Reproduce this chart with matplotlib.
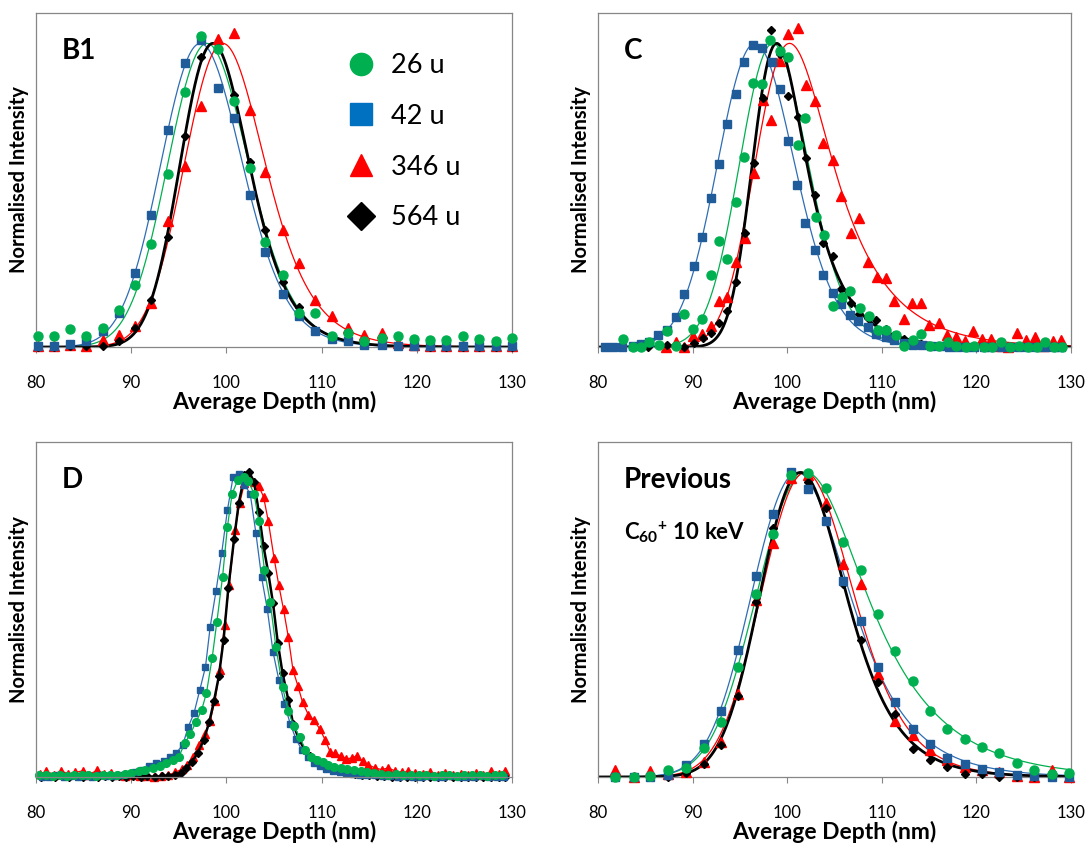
import numpy as np
import matplotlib
matplotlib.use('Agg')
import matplotlib.pyplot as plt
from matplotlib.lines import Line2D

plt.rcParams['font.family'] = ['Lato', 'DejaVu Sans']
plt.rcParams['mathtext.fontset'] = 'custom'
plt.rcParams['mathtext.rm'] = 'Lato'
plt.rcParams['mathtext.bf'] = 'Lato:bold'

# ---- data (depth in nm, normalised intensity) ----
labels = ['26 u', '42 u', '346 u', '564 u']

# panel B1 (all series share one depth grid)
b1_x = [80.2, 81.9, 83.6, 85.3, 87.0, 88.7, 90.4, 92.1, 93.9, 95.6, 97.3, 99.1, 100.8, 102.5, 104.1,
        105.9, 107.6, 109.3, 111.1, 112.8, 114.5, 116.3, 118.0, 119.7, 121.4, 123.1, 124.8, 126.5, 128.3, 130.0]
b1_26 = [0.035, 0.035, 0.059, 0.035, 0.063, 0.121, 0.205, 0.340, 0.571, 0.839, 1.023, 0.981, 0.809, 0.590, 0.345,
         0.237, 0.112, 0.112, 0.037, 0.046, 0.019, 0.030, 0.035, 0.026, 0.022, 0.022, 0.035, 0.026, 0.019, 0.030]
b1_42 = [0.002, 0.002, 0.011, 0.019, 0.052, 0.112, 0.244, 0.436, 0.714, 0.937, 1.012, 0.853, 0.754, 0.502, 0.312,
         0.176, 0.103, 0.052, 0.026, 0.019, 0.008, 0.008, 0.002, 0.002, 0.002, 0.002, 0.002, 0.002, 0.002, 0.002]
b1_346 = [0.004, 0.002, 0.008, 0.002, 0.024, 0.041, 0.070, 0.145, 0.414, 0.595, 0.795, 1.014, 1.034, 0.782, 0.578,
          0.386, 0.277, 0.156, 0.101, 0.063, 0.041, 0.046, 0.013, 0.008, 0.004, 0.002, 0.002, 0.002, 0.002, 0.002]
b1_564 = [0.0, 0.0, 0.002, 0.002, 0.002, 0.019, 0.063, 0.156, 0.364, 0.694, 0.955, 0.985, 0.831, 0.609, 0.386,
          0.213, 0.132, 0.055, 0.035, 0.019, 0.013, 0.008, 0.002, 0.002, 0.0, 0.0, 0.0, 0.0, 0.0, 0.0]

# panel C
c_x_26 = [82.6, 83.7, 84.5, 85.4, 86.4, 87.3, 88.2, 89.1, 90.0, 91.0, 91.9, 92.8, 93.6, 94.6, 95.4, 96.4, 97.3,
          98.2, 99.2, 100.1, 101.1, 101.9, 103.0, 103.9, 104.8, 105.8, 106.6, 107.7, 108.6, 109.6, 110.5, 111.5,
          112.3, 113.3, 114.2, 115.1, 116.1, 117.0, 117.9, 118.9, 119.8, 120.8, 121.7, 122.6, 123.6, 124.5, 125.5,
          126.4, 127.3, 128.2, 129.1]
c_y_26 = [0.025, 0.0, 0.0, 0.016, 0.008, 0.052, 0.005, 0.110, 0.060, 0.093, 0.236, 0.348, 0.291, 0.476, 0.626,
          0.871, 0.865, 1.011, 0.975, 0.956, 0.664, 0.754, 0.428, 0.370, 0.134, 0.165, 0.186, 0.129, 0.101, 0.057,
          0.057, 0.038, 0.005, 0.024, 0.043, 0.002, 0.005, 0.016, 0.002, 0.0, 0.003, 0.0, 0.0, 0.016, 0.0, 0.002,
          0.0, 0.0, 0.016, 0.0, 0.0]
c_x_42 = [80.7, 81.6, 82.5, 83.7, 84.6, 85.4, 86.3, 87.3, 88.2, 89.1, 90.1, 91.0, 91.9, 92.8, 93.6, 94.6, 95.4,
          96.4, 97.3, 98.4, 99.2, 100.1, 101.0, 101.9, 102.9, 103.8, 104.8, 105.7, 106.6, 107.5, 108.5, 109.4,
          110.4, 111.3, 112.3, 113.3, 114.3, 115.2, 116.2, 117.1, 118.0, 118.9, 119.8, 120.8, 121.6, 122.6, 123.6,
          124.5, 125.5, 126.4, 127.3, 128.2, 129.0]
c_y_42 = [0.0, 0.0, 0.0, 0.005, 0.011, 0.016, 0.038, 0.055, 0.099, 0.173, 0.267, 0.363, 0.491, 0.604, 0.736,
          0.833, 0.940, 0.995, 0.984, 0.940, 0.849, 0.678, 0.535, 0.410, 0.321, 0.236, 0.178, 0.142, 0.107, 0.085,
          0.066, 0.043, 0.032, 0.024, 0.013, 0.008, 0.008, 0.002, 0.002, 0.0, 0.0, 0.0, 0.0, 0.0, 0.0, 0.0, 0.0,
          0.0, 0.0, 0.0, 0.0, 0.0, 0.0]
c_x_346 = [87.2, 88.2, 89.1, 90.0, 91.0, 91.9, 92.8, 93.6, 94.6, 95.5, 96.5, 97.4, 98.3, 99.2, 100.1, 101.1,
           102.0, 102.9, 103.8, 104.8, 105.7, 106.7, 107.6, 108.5, 109.5, 110.4, 111.3, 112.3, 113.2, 114.1, 115.0,
           116.0, 116.9, 117.9, 118.8, 119.7, 120.6, 121.5, 122.5, 123.4, 124.3, 125.3, 126.2, 127.2, 128.1, 129.0]
c_y_346 = [0.0, 0.015, 0.0, 0.035, 0.042, 0.070, 0.150, 0.165, 0.281, 0.360, 0.572, 0.814, 0.748, 0.942, 1.032,
           1.050, 0.863, 0.809, 0.672, 0.615, 0.499, 0.376, 0.424, 0.280, 0.230, 0.227, 0.152, 0.093, 0.145, 0.145,
           0.074, 0.079, 0.040, 0.032, 0.020, 0.053, 0.025, 0.026, 0.005, 0.0, 0.046, 0.023, 0.034, 0.005, 0.020,
           0.024]
c_x_564 = [85.3, 87.3, 89.1, 90.2, 91.1, 92.0, 92.8, 93.6, 94.6, 95.5, 96.5, 97.4, 98.3, 99.2, 100.1, 101.1,
           102.0, 102.9, 103.8, 104.8, 105.7, 106.7, 107.6, 108.5, 109.4, 110.4, 111.3, 112.3, 113.2, 114.1, 115.0,
           116.0, 117.0, 118.0]
c_y_564 = [0.0, 0.008, 0.0, 0.013, 0.030, 0.045, 0.078, 0.118, 0.213, 0.376, 0.606, 0.819, 1.044, 0.965, 0.826,
           0.758, 0.621, 0.500, 0.344, 0.299, 0.192, 0.146, 0.110, 0.095, 0.089, 0.060, 0.040, 0.025, 0.015, 0.010,
           0.005, 0.003, 0.0, 0.0]

# panel D (points joined by lines, no fit)
d_x_26 = [80.3, 81.0, 81.8, 82.5, 83.3, 84.0, 84.8, 85.5, 86.3, 87.0, 87.8, 88.5, 89.3, 90.0, 90.8, 91.5, 92.3,
          93.0, 93.7, 94.4, 95.0, 95.6, 96.2, 96.8, 97.4, 97.9, 98.5, 99.0, 99.6, 100.1, 100.6, 101.2, 101.8,
          102.3, 102.9, 103.4, 104.0, 104.6, 105.2, 105.9, 106.5, 107.1, 107.7, 108.3, 108.9, 109.5, 110.1, 110.7,
          111.3, 112.0, 112.7, 113.4, 114.1, 114.8, 115.5, 116.2, 117.0, 117.8, 118.6, 119.4, 120.2, 121.0, 121.8,
          122.6, 123.4, 124.2, 125.0, 125.8, 126.6, 127.4, 128.2, 129.0]
d_y_26 = [0.005, 0.008, 0.004, 0.007, 0.003, 0.008, 0.005, 0.006, 0.004, 0.007, 0.005, 0.006, 0.009, 0.012,
          0.018, 0.024, 0.030, 0.036, 0.045, 0.055, 0.065, 0.110, 0.140, 0.180, 0.220, 0.275, 0.390, 0.510, 0.658,
          0.820, 0.930, 0.975, 0.985, 0.972, 0.930, 0.842, 0.678, 0.574, 0.427, 0.295, 0.215, 0.166, 0.131, 0.090,
          0.066, 0.057, 0.050, 0.038, 0.033, 0.030, 0.025, 0.022, 0.020, 0.016, 0.012, 0.010, 0.008, 0.010, 0.006,
          0.008, 0.005, 0.007, 0.004, 0.008, 0.006, 0.004, 0.007, 0.005, 0.006, 0.004, 0.007, 0.008]
d_x_42 = [80.6, 81.4, 82.1, 82.9, 83.6, 84.4, 85.1, 85.9, 86.6, 87.4, 88.1, 88.9, 89.6, 90.4, 91.1, 91.9, 92.6,
          93.4, 94.1, 94.7, 95.4, 96.0, 96.6, 97.2, 97.8, 98.3, 98.9, 99.5, 100.1, 100.7, 101.3, 101.9, 102.5,
          103.1, 103.7, 104.3, 104.9, 105.5, 106.1, 106.7, 107.3, 107.9, 108.6, 109.2, 109.8, 110.5, 111.2, 111.9,
          112.6, 113.3, 114.0, 114.8, 115.6, 116.4, 117.2, 118.0, 118.8, 119.6, 120.4, 121.2, 122.0, 122.8, 123.6,
          124.4, 125.2, 126.0, 126.8, 127.6, 128.4, 129.2]
d_y_42 = [0.0, 0.0, 0.005, 0.0, 0.003, 0.0, 0.004, 0.0, 0.005, 0.002, 0.004, 0.008, 0.010, 0.015, 0.022, 0.035,
          0.046, 0.053, 0.064, 0.078, 0.104, 0.165, 0.210, 0.285, 0.361, 0.494, 0.609, 0.734, 0.875, 0.985, 0.995,
          0.960, 0.930, 0.800, 0.655, 0.550, 0.410, 0.320, 0.240, 0.175, 0.125, 0.090, 0.065, 0.046, 0.035, 0.025,
          0.020, 0.015, 0.012, 0.010, 0.008, 0.006, 0.005, 0.004, 0.002, 0.0, 0.002, 0.0, 0.0, 0.003, 0.0, 0.0,
          0.002, 0.0, 0.0, 0.0, 0.003, 0.0, 0.0, 0.0]
d_x_346 = [80.4, 81.1, 81.9, 82.6, 83.4, 84.1, 84.9, 85.6, 86.4, 87.1, 87.9, 88.6, 89.4, 90.1, 90.9, 91.6, 92.4,
           93.1, 93.9, 94.6, 95.3, 95.9, 96.5, 97.1, 97.7, 98.3, 98.8, 99.3, 99.8, 100.3, 100.9, 101.4, 101.9,
           102.4, 102.9, 103.4, 103.9, 104.4, 105.0, 105.5, 106.0, 106.5, 107.0, 107.5, 108.0, 108.6, 109.2, 109.8,
           110.4, 110.9, 111.4, 112.0, 112.6, 113.2, 113.7, 114.3, 114.9, 115.6, 116.3, 117.0, 117.7, 118.4, 119.1,
           119.8, 120.6, 121.4, 122.2, 123.0, 123.8, 124.6, 125.4, 126.2, 127.0, 127.8, 128.6, 129.3]
d_y_346 = [0.010, 0.018, 0.008, 0.020, 0.010, 0.015, 0.020, 0.008, 0.022, 0.010, 0.012, 0.006, 0.004, 0.005,
           0.003, 0.002, 0.0, 0.004, 0.006, 0.015, 0.025, 0.040, 0.065, 0.105, 0.140, 0.185, 0.250, 0.350, 0.500,
           0.630, 0.810, 0.900, 0.965, 0.985, 0.970, 0.955, 0.920, 0.840, 0.720, 0.630, 0.550, 0.460, 0.350, 0.300,
           0.245, 0.205, 0.186, 0.158, 0.120, 0.082, 0.078, 0.069, 0.060, 0.062, 0.070, 0.052, 0.040, 0.030, 0.024,
           0.030, 0.020, 0.015, 0.018, 0.012, 0.010, 0.015, 0.008, 0.012, 0.006, 0.010, 0.008, 0.012, 0.006, 0.018,
           0.010, 0.020]
d_x_564 = [80.5, 81.2, 82.0, 82.7, 83.5, 84.2, 84.9, 85.7, 86.5, 87.2, 88.0, 88.7, 89.5, 90.2, 91.0, 91.7, 92.5,
           93.2, 93.9, 94.6, 95.2, 95.8, 96.4, 97.0, 97.6, 98.2, 98.7, 99.2, 99.7, 100.2, 100.8, 101.3, 101.9,
           102.4, 102.9, 103.4, 103.9, 104.4, 104.9, 105.4, 105.9, 106.5, 107.0, 107.6, 108.2, 108.8, 109.4, 110.0,
           110.7, 111.4, 112.1, 112.8, 113.5, 114.2, 115.0, 115.8, 116.6, 117.4, 118.2, 119.0, 119.8, 120.6, 121.4,
           122.2, 123.0, 123.8, 124.6, 125.4, 126.2, 127.0, 127.8, 128.6, 129.3]
d_y_564 = [0.0, 0.002, 0.0, 0.003, 0.0, 0.002, 0.0, 0.002, 0.0, 0.002, 0.0, 0.003, 0.0, 0.002, 0.0, 0.002, 0.0,
           0.002, 0.004, 0.008, 0.014, 0.028, 0.050, 0.080, 0.120, 0.180, 0.250, 0.330, 0.450, 0.620, 0.780, 0.900,
           0.990, 1.000, 0.970, 0.870, 0.757, 0.670, 0.570, 0.440, 0.340, 0.254, 0.175, 0.125, 0.090, 0.068, 0.055,
           0.045, 0.035, 0.027, 0.020, 0.015, 0.011, 0.008, 0.005, 0.003, 0.002, 0.0, 0.0, 0.001, 0.0, 0.0, 0.001,
           0.0, 0.0, 0.001, 0.0, 0.0, 0.001, 0.0, 0.0, 0.0, 0.0]

# panel "Previous" (C60+ 10 keV), one depth grid
p_x = [81.8, 83.8, 85.5, 87.4, 89.3, 91.2, 93.0, 94.8, 96.7, 98.5, 100.4, 102.2, 104.1, 105.9, 107.8, 109.6,
       111.4, 113.3, 115.1, 116.9, 118.8, 120.6, 122.4, 124.3, 126.1, 128.0, 129.8]
p_26 = [0.0, 0.0, 0.002, 0.024, 0.031, 0.096, 0.181, 0.361, 0.600, 0.797, 0.993, 0.998, 0.949, 0.771, 0.681, 0.534,
        0.414, 0.314, 0.216, 0.159, 0.126, 0.098, 0.079, 0.046, 0.024, 0.009, 0.013]
p_42 = [0.0, 0.0, 0.0, 0.005, 0.038, 0.109, 0.216, 0.418, 0.660, 0.862, 1.001, 0.946, 0.840, 0.643, 0.512, 0.361,
        0.246, 0.159, 0.107, 0.063, 0.044, 0.027, 0.016, 0.008, 0.002, 0.0, 0.0]
p_346 = [0.024, 0.0, 0.020, 0.009, 0.016, 0.049, 0.115, 0.271, 0.580, 0.768, 0.982, 0.990, 0.900, 0.700, 0.632,
         0.339, 0.184, 0.137, 0.090, 0.055, 0.033, 0.022, 0.016, 0.002, 0.0, 0.022, 0.0]
p_564 = [0.0, 0.0, 0.0, 0.0, 0.013, 0.044, 0.104, 0.265, 0.574, 0.818, 0.990, 0.970, 0.884, 0.632, 0.449, 0.312,
         0.208, 0.093, 0.057, 0.033, 0.009, 0.009, 0.0, 0.0, 0.0, 0.0, 0.0]

GREEN = '#00B050'
BLUE_M = '#1F5C99'
BLUE_L = '#2E6DB4'
RED = '#FF0000'
# marker colour, line colour, marker, marker size
styles = [(GREEN, GREEN, 'o', 6.5), (BLUE_M, BLUE_L, 's', 5.8), (RED, RED, '^', 7.0), ('black', 'black', 'D', 4.4)]
FRAME = '#868686'


def erfcx_pos(z):
    # scaled complementary error function for z >= 0 (Numerical Recipes erfcc)
    t = 1.0 / (1.0 + 0.5 * z)
    p = (-1.26551223 + t * (1.00002368 + t * (0.37409196 + t * (0.09678418 + t * (-0.18628806 + t * (
        0.27886807 + t * (-1.13520398 + t * (1.48851587 + t * (-0.82215223 + t * 0.17087277)))))))))
    return t * np.exp(p)


def emg(x, mu, sig, tau):
    # exponentially modified gaussian, written so it does not overflow
    z = ((mu - x) / sig + sig / tau) / np.sqrt(2)
    az = np.abs(z)
    ex = erfcx_pos(az)
    left = np.exp(-0.5 * ((x - mu) / sig) ** 2) * ex
    expo = np.minimum((mu - x) / tau + 0.5 * (sig / tau) ** 2, 50)
    right = np.exp(expo) * (2 - ex * np.exp(-az * az))
    return np.where(z >= 0, left, right)


def fit_curve(x, y):
    x = np.asarray(x, float)
    y = np.asarray(y, float)
    xp = x[np.argmax(y)]

    def search(mus, sigs, taus):
        M, S, T = np.meshgrid(mus, sigs, taus, indexing='ij')
        M, S, T = M.ravel()[:, None], S.ravel()[:, None], T.ravel()[:, None]
        G = emg(x[None, :], M, S, T)
        amp = (G @ y) / np.maximum((G * G).sum(1), 1e-12)
        err = ((y[None, :] - amp[:, None] * G) ** 2).sum(1)
        i = np.argmin(err)
        return M[i, 0], S[i, 0], T[i, 0]

    mu, sig, tau = search(np.arange(xp - 8, xp + 1.01, 0.25), np.arange(1.0, 7.01, 0.2),
                          np.array([0.05, 0.2, 0.4, 0.6, 0.8, 1.0, 1.3, 1.6, 2.0, 2.5, 3.0, 3.5, 4.0, 5.0, 6.0, 8.0, 10.0]))
    mu, sig, tau = search(mu + np.arange(-0.3, 0.31, 0.05), sig + np.arange(-0.2, 0.21, 0.04),
                          tau * np.linspace(0.7, 1.3, 13))
    xx = np.linspace(80, 130, 600)
    yy = emg(xx, mu, sig, tau)
    return xx, yy / yy.max()


def setup(ax, tag, sub=None):
    ax.set_xlim(80, 130)
    ax.set_ylim(0, 1.1)
    ax.set_xticks([80, 90, 100, 110, 120, 130])
    ax.set_yticks([])
    ax.tick_params(axis='x', direction='out', length=4, width=0.8, color=FRAME, labelsize=12, pad=16)
    for sp in ax.spines.values():
        sp.set_color(FRAME)
        sp.set_linewidth(0.9)
    ax.set_xlabel('Average Depth (nm)', fontsize=16.5, fontweight='bold', labelpad=0)
    ax.set_ylabel('Normalised Intensity', fontsize=14.5, fontweight='bold')
    ax.yaxis.set_label_coords(-0.015, 0.5)
    ax.text(0.055, 0.885, tag, transform=ax.transAxes, fontsize=20, fontweight='bold', va='center')
    if sub:
        ax.text(0.055, 0.73, sub, transform=ax.transAxes, fontsize=16, fontweight='bold', va='center')


def fit_panel(ax, series):
    for (x, y), (mc, lc, mk, ms) in zip(series, styles):
        xx, yy = fit_curve(x, y)
        ax.plot(xx, yy, color=lc, lw=2.0 if lc == 'black' else 0.9, zorder=2)
    for k in [2, 3, 1, 0]:
        x, y = series[k]
        mc, lc, mk, ms = styles[k]
        ax.plot(x, y, ls='none', marker=mk, ms=ms, mfc=mc, mec=mc, zorder=3, clip_on=False)


fig = plt.figure(figsize=(10.91, 8.46), dpi=100)
ax_b1 = fig.add_axes([0.033, 0.5898, 0.4363, 0.3948])
ax_c = fig.add_axes([0.5481, 0.5898, 0.4335, 0.3948])
ax_d = fig.add_axes([0.033, 0.0816, 0.4363, 0.3960])
ax_p = fig.add_axes([0.5481, 0.0816, 0.4335, 0.3960])

fit_panel(ax_b1, [(b1_x, b1_26), (b1_x, b1_42), (b1_x, b1_346), (b1_x, b1_564)])
fit_panel(ax_c, [(c_x_26, c_y_26), (c_x_42, c_y_42), (c_x_346, c_y_346), (c_x_564, c_y_564)])
fit_panel(ax_p, [(p_x, p_26), (p_x, p_42), (p_x, p_346), (p_x, p_564)])

d_series = [(d_x_26, d_y_26), (d_x_42, d_y_42), (d_x_346, d_y_346), (d_x_564, d_y_564)]
for k in [2, 3, 1, 0]:
    x, y = d_series[k]
    mc, lc, mk, ms = styles[k]
    ax_d.plot(x, y, color=lc, lw=1.8 if lc == 'black' else 0.9, marker=mk, ms=ms * 0.85,
              mfc=mc, mec=mc, clip_on=False)

setup(ax_b1, 'B1')
setup(ax_c, 'C')
setup(ax_d, 'D')
setup(ax_p, 'Previous', r'C$_{\mathbf{60}}{}^{\mathbf{+}}$ 10 keV')

handles = [Line2D([], [], ls='none', marker='o', ms=16, color=GREEN),
           Line2D([], [], ls='none', marker='s', ms=15.5, color='#0070C0'),
           Line2D([], [], ls='none', marker='^', ms=16, color=RED),
           Line2D([], [], ls='none', marker='D', ms=14, color='black')]
ax_b1.legend(handles, labels, loc='upper left', bbox_to_anchor=(0.651, 0.88), frameon=False, fontsize=19.5,
             handlelength=1.1, handletextpad=0.55, labelspacing=0.95, borderpad=0, borderaxespad=0)

fig.savefig('out.png', dpi=100)
